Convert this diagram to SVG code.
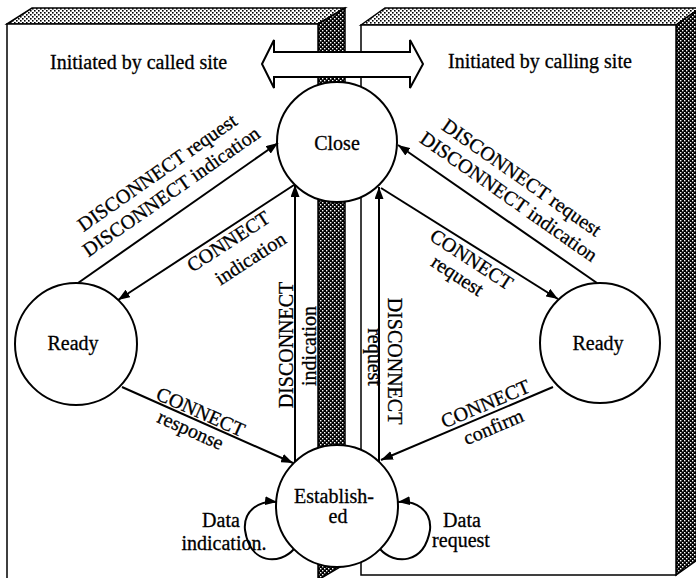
<svg xmlns="http://www.w3.org/2000/svg" width="696" height="578" viewBox="0 0 696 578">
<style>
.t{font-family:"Liberation Serif","Times New Roman",serif;font-size:20px;fill:#000;stroke:#000;stroke-width:0.3}
.m{text-anchor:middle}
.edge{fill:none;stroke:#000;stroke-width:2}
.node{fill:#fff;stroke:#000;stroke-width:2}
.box{stroke:#000;stroke-width:1.5}
</style>
<defs>
<pattern id="lt" width="4" height="4" patternUnits="userSpaceOnUse"><rect width="4" height="4" fill="#fff"/><rect width="1.6" height="1.6" fill="#000"/><rect x="2" y="2" width="1.6" height="1.6" fill="#000"/></pattern>
<pattern id="dk" width="4" height="4" patternUnits="userSpaceOnUse"><rect width="4" height="4" fill="#000"/><rect width="1.4" height="1.4" fill="#fff"/><rect x="2" y="2" width="1.4" height="1.4" fill="#fff"/></pattern>
<marker id="ah" viewBox="0 0 12 9" refX="12" refY="4.5" markerWidth="12" markerHeight="9" markerUnits="userSpaceOnUse" orient="auto"><path d="M0,0 L12,4.5 L0,9 z" fill="#000"/></marker>
</defs>
<g id="box-called">
<polygon class="box" points="7,24 32,8 345,8 318,24" fill="url(#lt)"/>
<polygon class="box" points="318,24 345,8 345,564 318,580" fill="url(#dk)"/>
<rect class="box" x="7" y="24" width="311" height="560" fill="#fff"/>
<text class="t" x="50" y="69">Initiated by called site</text>
</g>
<g id="box-calling">
<polygon class="box" points="361,25 385,8 700,8 676,25" fill="url(#lt)"/>
<polygon class="box" points="676,25 700,8 700,558 676,575" fill="url(#dk)"/>
<rect class="box" x="361" y="25" width="315" height="550" fill="#fff"/>
<text class="t" x="448" y="68">Initiated by calling site</text>
</g>
<g id="double-arrow">
<polygon points="262,64 274,40 274,52 410,52 410,40 423,64 410,88 410,77 274,77 274,88" fill="#fff" stroke="#000" stroke-width="2" stroke-linejoin="miter"/>
</g>
<g id="close"><circle class="node" cx="337" cy="142" r="60"/><text class="t m" x="337" y="150">Close</text></g>
<g id="ready-left"><circle class="node" cx="76" cy="344" r="61"/><text class="t m" x="73" y="350">Ready</text></g>
<g id="ready-right"><circle class="node" cx="600" cy="343" r="60"/><text class="t m" x="598" y="350">Ready</text></g>
<g id="established"><circle class="node" cx="337" cy="506" r="61"/><text class="t m" x="334" y="503">Establish-</text><text class="t m" x="338" y="523">ed</text></g>
<g id="connectors">
<line class="edge" x1="78" y1="283" x2="278" y2="143" marker-end="url(#ah)"/>
<line class="edge" x1="294" y1="185" x2="118" y2="300" marker-end="url(#ah)"/>
<line class="edge" x1="597" y1="283" x2="398" y2="145" marker-end="url(#ah)"/>
<line class="edge" x1="381" y1="188" x2="558" y2="299" marker-end="url(#ah)"/>
<line class="edge" x1="122" y1="387" x2="293" y2="463" marker-end="url(#ah)"/>
<line class="edge" x1="553" y1="387" x2="381" y2="460" marker-end="url(#ah)"/>
<line class="edge" x1="295" y1="462" x2="295" y2="185" marker-end="url(#ah)"/>
<line class="edge" x1="379" y1="462" x2="379" y2="187" marker-end="url(#ah)"/>
<path class="edge" d="M294,549 C280,565 250,565 245,530 C243,510 260,500 277,502" marker-end="url(#ah)"/>
<path class="edge" d="M380,549 C394,565 424,565 430,530 C432,510 415,500 398,502" marker-end="url(#ah)"/>
<text class="t m" transform="translate(161,178) rotate(-35)">DISCONNECT request</text>
<text class="t m" transform="translate(175,197) rotate(-35)">DISCONNECT indication</text>
<text class="t m" transform="translate(518,183) rotate(35)">DISCONNECT request</text>
<text class="t m" transform="translate(505,202) rotate(35)">DISCONNECT indication</text>
<text class="t m" transform="translate(232,247) rotate(-33)">CONNECT</text>
<text class="t m" transform="translate(254,264) rotate(-33)">indication</text>
<text class="t m" transform="translate(468,265) rotate(33)">CONNECT</text>
<text class="t m" transform="translate(454,281) rotate(33)">request</text>
<text class="t m" transform="translate(198,418) rotate(24)">CONNECT</text>
<text class="t m" transform="translate(188,436) rotate(24)">response</text>
<text class="t m" transform="translate(488,410) rotate(-23)">CONNECT</text>
<text class="t m" transform="translate(496,433) rotate(-23)">confirm</text>
<text class="t m" transform="translate(293,345) rotate(-90)">DISCONNECT</text>
<text class="t m" transform="translate(316,346) rotate(-90)">indication</text>
<text class="t m" transform="translate(388,361) rotate(90)">DISCONNECT</text>
<text class="t m" transform="translate(368,357) rotate(90)">request</text>
<text class="t m" x="221" y="527">Data</text>
<text class="t m" x="224" y="550">indication.</text>
<text class="t m" x="462" y="527">Data</text>
<text class="t m" x="461" y="547">request</text>
</g>
</svg>
